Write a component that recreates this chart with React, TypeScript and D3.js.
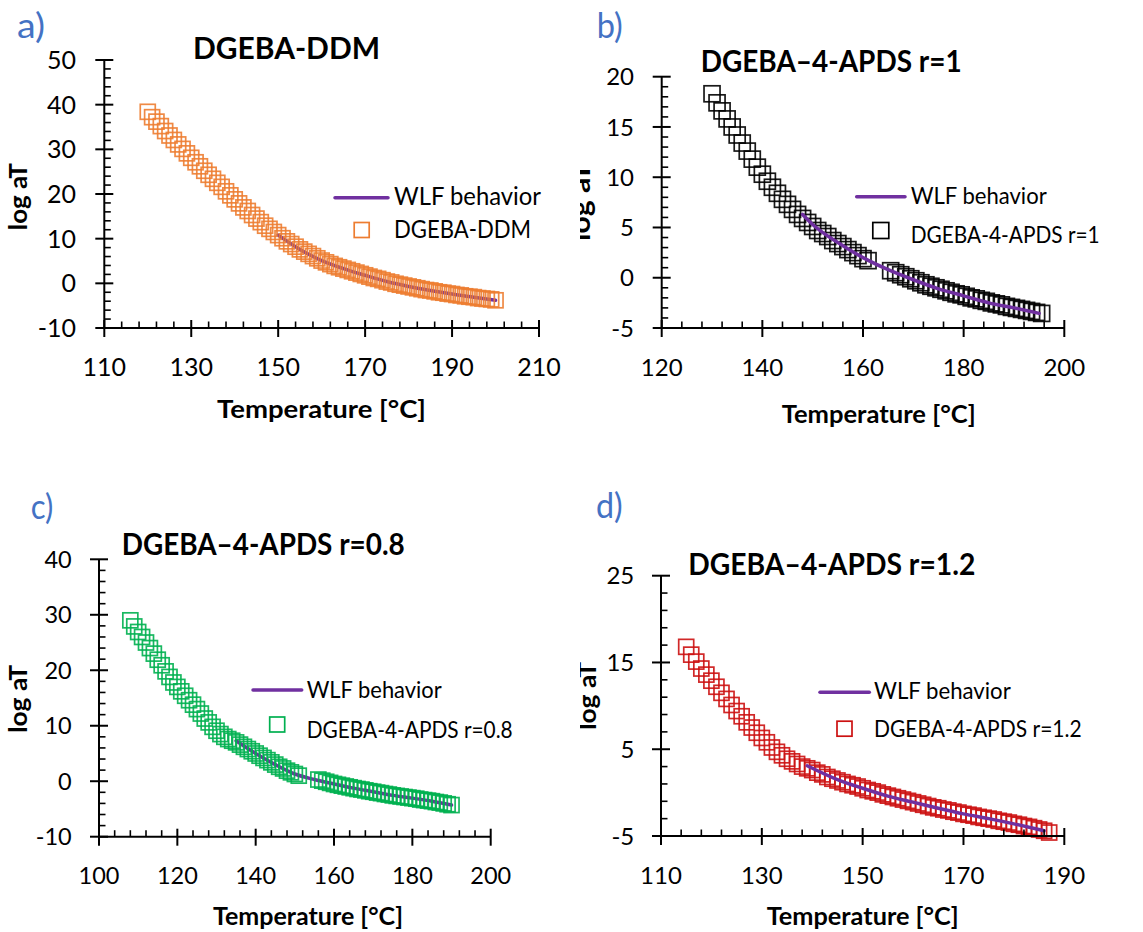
import React from "react";
import * as d3 from "d3";

// ---------- DATA ----------
const tempsA = [120,121,122,123,124,125,126,127,128,129,130,131,132,133,134,135,136,137,138,139,140,141,142,143,144,145,146,147,148,149,150,151,152,153,154,155,156,157,158,159,160,161,162,163,164,165,166,167,168,169,170,171,172,173,174,175,176,177,178,179,180,181,182,183,184,185,186,187,188,189,190,191,192,193,194,195,196,197,198,199,200];
const logA = [38.4,37.2,36.2,35.2,34.1,33.1,32.1,31.1,30.1,29.1,28.1,27.1,26.2,25.2,24.3,23.4,22.5,21.6,20.6,19.7,18.8,17.9,17.0,16.2,15.3,14.5,13.7,12.9,12.2,11.5,10.8,10.1,9.4,8.8,8.2,7.6,7.1,6.6,6.1,5.6,5.1,4.7,4.3,3.9,3.6,3.3,3.0,2.7,2.4,2.1,1.8,1.5,1.2,1.0,0.7,0.4,0.2,-0.1,-0.3,-0.5,-0.7,-0.9,-1.1,-1.3,-1.5,-1.6,-1.8,-2.0,-2.1,-2.3,-2.4,-2.6,-2.7,-2.9,-3.0,-3.1,-3.3,-3.4,-3.5,-3.6,-3.8];
const wlfTempsA = [150,155,160,165,170,175,180,185,190,195,200];
const wlfA = [10.8,7.6,5.1,3.3,1.8,0.4,-0.7,-1.6,-2.4,-3.1,-3.8];

const tempsB = [130,131,132,133,134,135,136,137,138,139,140,141,142,143,144,145,146,147,148,149,150,151,152,153,154,155,156,157,158,159,160,161,165.5,166.5,167.5,168.5,169.5,170.5,171.5,172.5,173.5,174.5,175.5,176.5,177.5,178.5,179.5,180.5,181.5,182.5,183.5,184.5,185.5,186.5,187.5,188.5,189.5,190.5,191.5,192.5,193.5,194.5,195.5];
const logB = [18.3,17.4,16.6,15.8,15.0,14.2,13.4,12.6,11.8,11.0,10.3,9.6,9.0,8.4,7.8,7.3,6.8,6.3,5.9,5.5,5.1,4.7,4.4,4.1,3.7,3.4,3.1,2.8,2.5,2.2,1.9,1.7,0.7,0.5,0.3,0.1,-0.1,-0.3,-0.5,-0.7,-0.85,-1.0,-1.15,-1.3,-1.45,-1.6,-1.7,-1.85,-2.0,-2.1,-2.25,-2.35,-2.5,-2.6,-2.7,-2.85,-2.95,-3.05,-3.15,-3.25,-3.35,-3.45,-3.55];
const wlfTempsB = [148,150,155,160,165,170,175,180,185,190,195];
const wlfB = [6.3,5.3,3.5,2.0,0.8,-0.2,-1.1,-1.8,-2.5,-3.0,-3.55];

const tempsC = [108,109,110,111,112,113,114,115,116,117,118,119,120,121,122,123,124,125,126,127,128,129,130,131,132,133,134,135,136,137,138,139,140,141,142,143,144,145,146,147,148,149,150,151,156,157,158,159,160,161,162,163,164,165,166,167,168,169,170,171,172,173,174,175,176,177,178,179,180,181,182,183,184,185,186,187,188,189,190];
const logC = [29.0,27.9,26.9,26.0,25.0,24.0,23.0,21.9,20.9,19.8,18.8,17.8,17.0,16.2,15.4,14.6,13.8,13.0,12.2,11.3,10.6,9.8,9.1,8.5,8.0,7.6,7.3,7.0,6.6,6.2,5.8,5.4,5.0,4.6,4.2,3.8,3.4,3.0,2.6,2.3,1.9,1.6,1.3,1.0,0.3,0.1,-0.1,-0.3,-0.5,-0.65,-0.8,-0.95,-1.1,-1.25,-1.4,-1.5,-1.65,-1.8,-1.9,-2.05,-2.15,-2.3,-2.4,-2.55,-2.65,-2.75,-2.85,-2.95,-3.05,-3.15,-3.3,-3.4,-3.5,-3.6,-3.75,-3.85,-4.0,-4.15,-4.3];
const wlfTempsC = [135,140,145,150,155,160,165,170,175,180,185,190];
const wlfC = [7.3,5.0,3.0,1.3,0.3,-0.5,-1.25,-1.9,-2.55,-3.05,-3.6,-4.3];

const tempsD = [115,116,117,118,119,120,121,122,123,124,125,126,127,128,129,130,131,132,133,134,135,136,137,138,139,140,141,142,143,144,145,146,147,148,149,150,151,152,153,154,155,156,157,158,159,160,161,162,163,164,165,166,167,168,169,170,171,172,173,174,175,176,177,178,179,180,181,182,183,184,185,186,187];
const logD = [16.8,15.9,15.1,14.3,13.6,12.9,12.2,11.5,10.8,10.1,9.4,8.8,8.1,7.5,6.9,6.3,5.8,5.2,4.7,4.3,3.9,3.6,3.3,3.0,2.8,2.6,2.3,2.1,1.8,1.6,1.4,1.2,1.0,0.85,0.7,0.5,0.3,0.15,0.0,-0.2,-0.35,-0.5,-0.65,-0.8,-0.95,-1.1,-1.25,-1.4,-1.55,-1.7,-1.8,-1.95,-2.05,-2.2,-2.3,-2.45,-2.55,-2.65,-2.8,-2.9,-3.0,-3.1,-3.25,-3.35,-3.45,-3.6,-3.7,-3.85,-3.95,-4.1,-4.25,-4.4,-4.6];
const wlfTempsD = [139,145,150,155,160,165,170,175,180,186];
const wlfD = [3.1,1.5,0.5,-0.4,-1.1,-1.8,-2.45,-3.0,-3.6,-4.4];

const panelLetters = ["a)", "b)", "c)", "d)"];
const titles = ["DGEBA-DDM", "DGEBA\u20134-APDS r=1", "DGEBA\u20134-APDS r=0.8", "DGEBA\u20134-APDS r=1.2"];
const seriesNames = ["DGEBA-DDM", "DGEBA-4-APDS r=1", "DGEBA-4-APDS r=0.8", "DGEBA-4-APDS r=1.2"];
const wlfName = "WLF behavior";
const xTitle = "Temperature [\u00B0C]";
const yTitle = "log  aT";

// ---------- LAYOUT / STYLE ----------
const FONT = "Lato, 'Open Sans', sans-serif";
const PURPLE = "#7030A0";

const panels = [
  {
    temps: tempsA, vals: logA, wT: wlfTempsA, wV: wlfA, color: "#ED7D31", lineOnTop: false,
    clip: [0, 0, 580, 466],
    xDom: [110, 210], xMaj: 20, xMin: 4, x0: 104.3, x1: 539,
    yDom: [-10, 50], yMaj: 10, yMin: 2, yTop: 60, yBot: 328,
    tickSize: 25, yLabX: 76, xLabY: 376,
    letter: { x: 17, y: 38, w: 28 },
    title: { x: 193, y: 59, w: 187, size: 31 },
    yT: { x: 27, y: 196.7, w: 67, size: 24 },
    xT: { x: 217, y: 418, w: 209, size: 25 },
    leg: { lx0: 335, lx1: 388, ly: 197.7, tx: 394, t1y: 205, t1w: 147, sx: 361.7, sy: 230, t2y: 238, t2w: 137, size: 25 },
    msize: 15,
  },
  {
    temps: tempsB, vals: logB, wT: wlfTempsB, wV: wlfB, color: "#000000", lineOnTop: true,
    clip: [580, 0, 563, 466],
    xDom: [120, 200], xMaj: 20, xMin: 4, x0: 661.7, x1: 1064.3,
    yDom: [-5, 20], yMaj: 5, yMin: 1, yTop: 76.7, yBot: 328,
    tickSize: 24, yLabX: 634, xLabY: 376,
    letter: { x: 596.7, y: 38, w: 26 },
    title: { x: 700.7, y: 71.7, w: 261, size: 30 },
    yT: { x: 589.5, y: 202, w: 78, size: 28 },
    xT: { x: 781.7, y: 423, w: 194, size: 24 },
    leg: { lx0: 856.7, lx1: 905, ly: 196.7, tx: 910.7, t1y: 204, t1w: 136, sx: 880.8, sy: 230.5, t2y: 243.3, t2w: 189, size: 23 },
    msize: 16,
  },
  {
    temps: tempsC, vals: logC, wT: wlfTempsC, wV: wlfC, color: "#00B050", lineOnTop: false,
    clip: [0, 466, 580, 466],
    xDom: [100, 200], xMaj: 20, xMin: 4, x0: 99, x1: 490.7,
    yDom: [-10, 40], yMaj: 10, yMin: 2, yTop: 559.3, yBot: 836.7,
    tickSize: 23.5, yLabX: 71.7, xLabY: 884,
    letter: { x: 30.7, y: 519, w: 22.6 },
    title: { x: 121.7, y: 555, w: 283, size: 30 },
    yT: { x: 27, y: 699, w: 68, size: 24 },
    xT: { x: 213, y: 925, w: 190, size: 24 },
    leg: { lx0: 253, lx1: 301.7, ly: 690, tx: 306.7, t1y: 698.3, t1w: 135, sx: 277.2, sy: 724.5, t2y: 738.3, t2w: 206, size: 23 },
    msize: 15,
  },
  {
    temps: tempsD, vals: logD, wT: wlfTempsD, wV: wlfD, color: "#CC1111", lineOnTop: true,
    clip: [580, 466, 563, 466],
    xDom: [110, 190], xMaj: 20, xMin: 4, x0: 661, x1: 1064.3,
    yDom: [-5, 25], yMaj: 10, yMin: 2, yTop: 575.7, yBot: 836,
    tickSize: 24, yLabX: 634.3, xLabY: 884,
    letter: { x: 596, y: 518, w: 26.7 },
    title: { x: 688.3, y: 575, w: 287, size: 30 },
    yT: { x: 596, y: 696, w: 68, size: 24 },
    xT: { x: 766.7, y: 925, w: 192, size: 24 },
    leg: { lx0: 820, lx1: 869.3, ly: 692.3, tx: 874, t1y: 699.3, t1w: 136.7, sx: 844.5, sy: 728.7, t2y: 736.7, t2w: 207.7, size: 23 },
    msize: 15,
  },
];

function rangeTicks(a: number, b: number, step: number) {
  const out: number[] = [];
  const n = Math.round((b - a) / step);
  for (let i = 0; i <= n; i++) out.push(+(a + i * step).toFixed(6));
  return out;
}

function Panel({ p, i }: { p: any; i: number }) {
  const x = d3.scaleLinear().domain(p.xDom).range([p.x0, p.x1]);
  const y = d3.scaleLinear().domain(p.yDom).range([p.yBot, p.yTop]);
  const xMajor = rangeTicks(p.xDom[0], p.xDom[1], p.xMaj);
  const xMinor = rangeTicks(p.xDom[0], p.xDom[1], p.xMin).filter((t) => !xMajor.some((m) => Math.abs(m - t) < 1e-6));
  const yMajor = rangeTicks(p.yDom[0], p.yDom[1], p.yMaj);
  const yMinor = rangeTicks(p.yDom[0], p.yDom[1], p.yMin).filter((t) => !yMajor.some((m) => Math.abs(m - t) < 1e-6));
  const pts = p.temps.map((t: number, k: number) => [t, p.vals[k]]);
  const wlf = p.wT.map((t: number, k: number) => [t, p.wV[k]]);
  const lineGen = d3.line<number[]>().x((d) => x(d[0])).y((d) => y(d[1])).curve(d3.curveMonotoneX);
  const s = p.msize;
  const line = <path d={lineGen(wlf) || ""} fill="none" stroke={PURPLE} strokeWidth={3.5} strokeLinecap="round" />;
  const squares = (
    <g>
      {pts.map((d: number[], k: number) => (
        <rect key={k} x={x(d[0]) - s / 2} y={y(d[1]) - s / 2} width={s} height={s} fill="none" stroke={p.color} strokeWidth={1.7} strokeOpacity={0.9} />
      ))}
    </g>
  );
  const [cx, cy, cw, ch] = p.clip;
  const L = p.leg;
  return (
    <g clipPath={`url(#clip${i})`}>
      <defs>
        <clipPath id={`clip${i}`}>
          <rect x={cx} y={cy} width={cw} height={ch} />
        </clipPath>
      </defs>
      <text x={p.letter.x} y={p.letter.y} fontSize={34} fill="#4472C4" textLength={p.letter.w} lengthAdjust="spacingAndGlyphs">{panelLetters[i]}</text>
      <text x={p.title.x} y={p.title.y} fontSize={p.title.size} fontWeight="bold" fill="#000" textLength={p.title.w} lengthAdjust="spacingAndGlyphs">{titles[i]}</text>
      {!p.lineOnTop && line}
      {squares}
      {p.lineOnTop && line}
      <line x1={p.x0} x2={p.x0} y1={p.yTop} y2={p.yBot} stroke="#000" strokeWidth={2} />
      <line x1={p.x0} x2={p.x1} y1={p.yBot} y2={p.yBot} stroke="#000" strokeWidth={2} />
      {yMajor.map((t) => (
        <line key={"ym" + t} x1={p.x0 - 9} x2={p.x0 + 9} y1={y(t)} y2={y(t)} stroke="#000" strokeWidth={2} />
      ))}
      {yMinor.map((t) => (
        <line key={"yn" + t} x1={p.x0} x2={p.x0 + 6.5} y1={y(t)} y2={y(t)} stroke="#000" strokeWidth={1.6} />
      ))}
      {xMajor.map((t) => (
        <line key={"xm" + t} x1={x(t)} x2={x(t)} y1={p.yBot - 8} y2={p.yBot + 9} stroke="#000" strokeWidth={2} />
      ))}
      {xMinor.map((t) => (
        <line key={"xn" + t} x1={x(t)} x2={x(t)} y1={p.yBot - 6.5} y2={p.yBot} stroke="#000" strokeWidth={1.6} />
      ))}
      {yMajor.map((t) => (
        <text key={"yl" + t} x={p.yLabX} y={y(t)} dy="0.36em" textAnchor="end" fontSize={p.tickSize} fill="#000">{t}</text>
      ))}
      {xMajor.map((t) => (
        <text key={"xl" + t} x={x(t)} y={p.xLabY} textAnchor="middle" fontSize={p.tickSize} fill="#000">{t}</text>
      ))}
      <text x={p.xT.x} y={p.xT.y} fontSize={p.xT.size} fontWeight="bold" fill="#000" textLength={p.xT.w} lengthAdjust="spacingAndGlyphs">{xTitle}</text>
      <text transform={`translate(${p.yT.x},${p.yT.y}) rotate(-90)`} textAnchor="middle" fontSize={p.yT.size} fontWeight="bold" fill="#000" textLength={p.yT.w} lengthAdjust="spacingAndGlyphs">{yTitle}</text>
      <line x1={L.lx0} x2={L.lx1} y1={L.ly} y2={L.ly} stroke={PURPLE} strokeWidth={3.5} strokeLinecap="round" />
      <text x={L.tx} y={L.t1y} fontSize={L.size} fill="#000" textLength={L.t1w} lengthAdjust="spacingAndGlyphs">{wlfName}</text>
      <rect x={L.sx - s / 2} y={L.sy - s / 2} width={s} height={s} fill="none" stroke={p.color} strokeWidth={1.7} />
      <text x={L.tx} y={L.t2y} fontSize={L.size} fill="#000" textLength={L.t2w} lengthAdjust="spacingAndGlyphs">{seriesNames[i]}</text>
    </g>
  );
}

export default function App() {
  return (
    <svg width={1143} height={932} style={{ position: "absolute", left: 0, top: 0, background: "#fff" }} fontFamily={FONT}>
      <rect x={0} y={0} width={1143} height={932} fill="#fff" />
      {panels.map((p, i) => (
        <Panel key={i} p={p} i={i} />
      ))}
    </svg>
  );
}
